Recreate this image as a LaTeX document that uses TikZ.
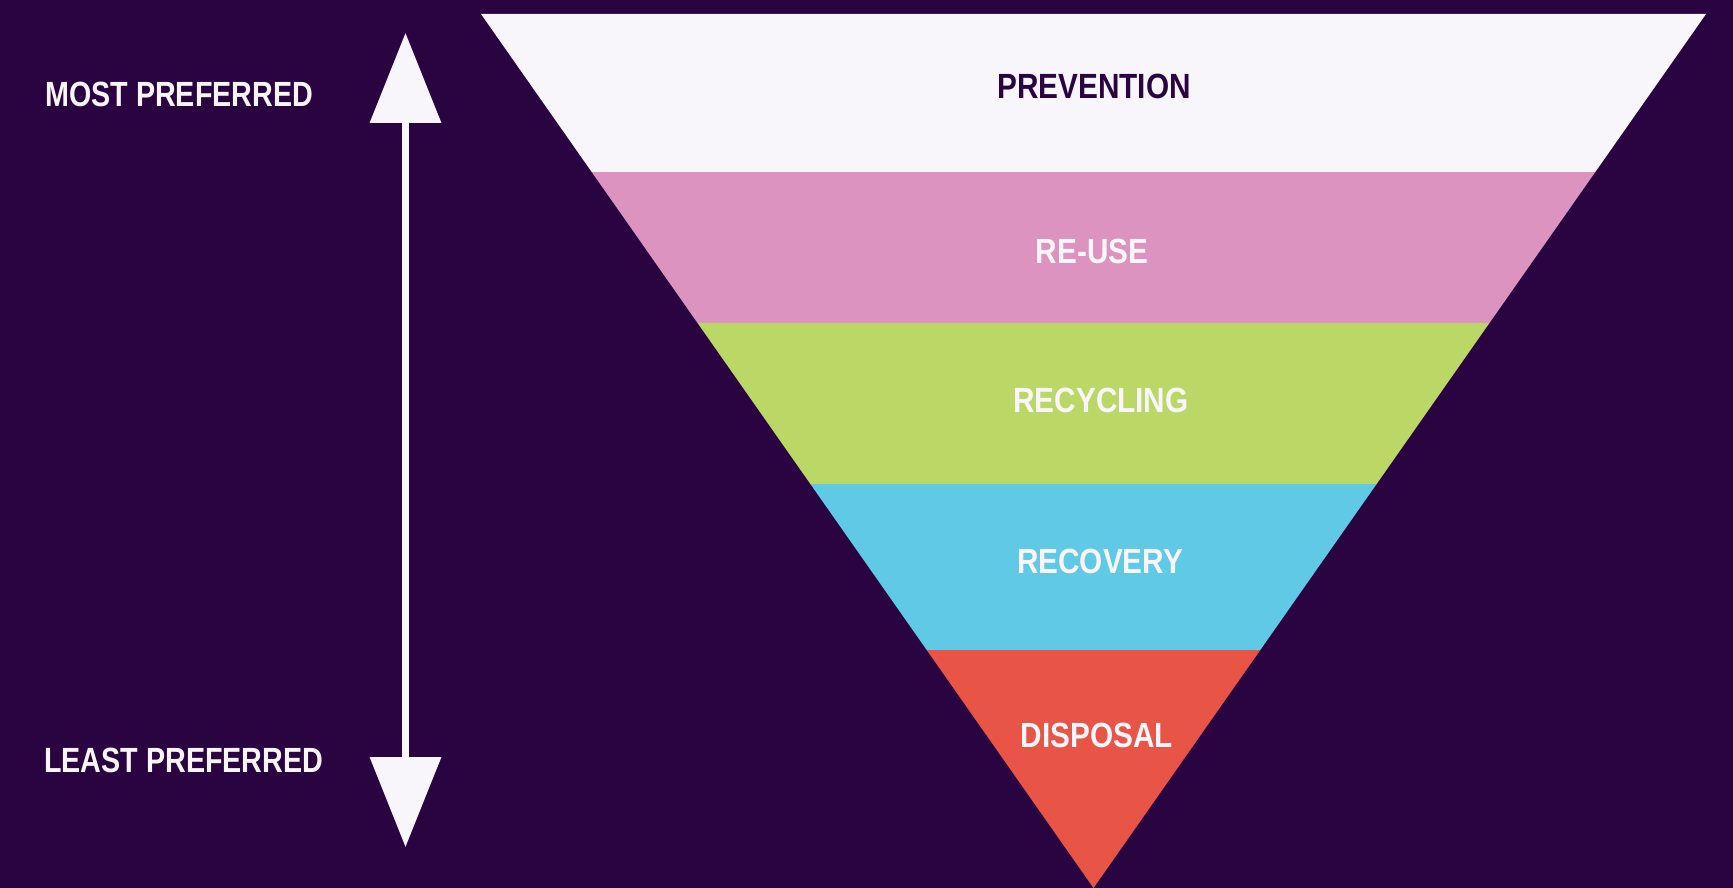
\documentclass[tikz,border=0pt]{standalone}
\usepackage{fontspec}
\newfontfamily\lblfont{Liberation Sans}[FakeStretch=0.85]
\newfontfamily\sidefont{Liberation Sans}[FakeStretch=0.82]
\usetikzlibrary{calc,arrows.meta}
\definecolor{bgc}{RGB}{41,4,64}
\definecolor{whc}{RGB}{248,246,250}
\definecolor{pkc}{RGB}{220,147,192}
\definecolor{grc}{RGB}{187,215,102}
\definecolor{blc}{RGB}{96,201,229}
\definecolor{rdc}{RGB}{232,84,69}
\tikzset{
  lbl/.style={font=\lblfont\bfseries\fontsize{35}{40}\selectfont, text=whc, inner sep=0pt},
  lbldark/.style={lbl, text=bgc},
  sidelbl/.style={lbl, font=\sidefont\bfseries\fontsize{35}{40}\selectfont, anchor=west},
  prefarrow/.style={draw=whc, line width=7pt, {Triangle[length=90pt,width=70pt]}-{Triangle[length=90pt,width=70pt]}}
}
\begin{document}
\begin{tikzpicture}[x=1pt,y=-1pt]
\fill[bgc] (0,0) rectangle (1733,888);
\useasboundingbox (0,0) rectangle (1733,888);
\coordinate (TL) at (481,14);
\coordinate (TR) at (1706,14);
\coordinate (AP) at (1093.5,888);
% bands
\fill[whc] (TL) -- (TR) -- ($(TR)!0.1808!(AP)$) -- ($(TL)!0.1808!(AP)$) -- cycle;
\fill[pkc] ($(TL)!0.1808!(AP)$) -- ($(TR)!0.1808!(AP)$) -- ($(TR)!0.3535!(AP)$) -- ($(TL)!0.3535!(AP)$) -- cycle;
\fill[grc] ($(TL)!0.3535!(AP)$) -- ($(TR)!0.3535!(AP)$) -- ($(TR)!0.5378!(AP)$) -- ($(TL)!0.5378!(AP)$) -- cycle;
\fill[blc] ($(TL)!0.5378!(AP)$) -- ($(TR)!0.5378!(AP)$) -- ($(TR)!0.7277!(AP)$) -- ($(TL)!0.7277!(AP)$) -- cycle;
\fill[rdc] ($(TL)!0.7277!(AP)$) -- ($(TR)!0.7277!(AP)$) -- (AP) -- cycle;
% band labels
\node[lbldark] (prev) at (1094,86) {PREVENTION};
\node[lbl] (reuse) at (1092,251) {RE-USE};
\node[lbl] (recyc) at (1101,400) {RECYCLING};
\node[lbl] (recov) at (1100,561) {RECOVERY};
\node[lbl] (disp) at (1097,735) {DISPOSAL};
% side labels
\node[sidelbl] (most) at (45,94.5) {MOST PREFERRED};
\node[sidelbl] (least) at (44,760.5) {LEAST PREFERRED};
% arrow
\coordinate (atop) at (405.5,33);
\coordinate (abot) at (405.5,847);
\draw[prefarrow] (atop) -- (abot);
\end{tikzpicture}
\end{document}
